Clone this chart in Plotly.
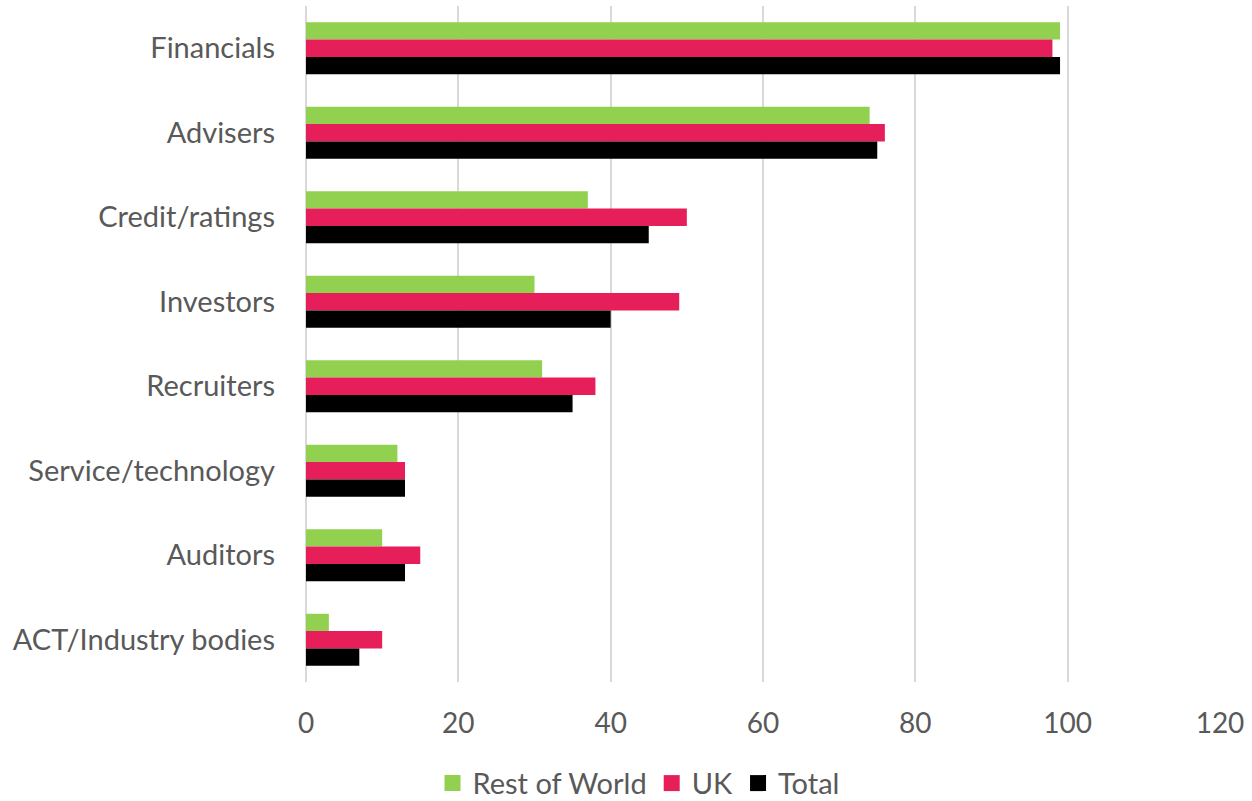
import plotly.graph_objects as go

categories = ["Financials", "Advisers", "Credit/ratings", "Investors",
              "Recruiters", "Service/technology", "Auditors", "ACT/Industry bodies"]
rest_of_world = [99, 74, 37, 30, 31, 12, 10, 3]
uk = [98, 76, 50, 49, 38, 13, 15, 10]
total = [99, 75, 45, 40, 35, 13, 13, 7]
x_ticks = [0, 20, 40, 60, 80, 100, 120]

series = [
    ("Rest of World", rest_of_world, "#92D050"),
    ("UK", uk, "#E61E5A"),
    ("Total", total, "#000000"),
]

fig = go.Figure()
for name, vals, color in series:
    fig.add_trace(go.Bar(
        y=categories, x=vals, name=name, orientation="h",
        marker=dict(color=color, line=dict(width=0)),
        showlegend=False,
    ))

# Square legend keys, larger than the default bar swatch
for name, _, color in series:
    fig.add_trace(go.Scatter(
        x=[None], y=[None], mode="markers", name=name,
        marker=dict(symbol="square", size=18, color=color),
        showlegend=True,
    ))

fig.update_layout(
    width=1252, height=801,
    margin=dict(l=306, r=32, t=6, b=119),
    paper_bgcolor="white", plot_bgcolor="white",
    barmode="group", bargap=0.385, bargroupgap=0,
    font=dict(family="Lato, Carlito, sans-serif", color="#595959", size=28),
    xaxis=dict(
        range=[0, 120], tickvals=x_ticks, showgrid=True,
        gridcolor="#D9D9D9", gridwidth=2, zeroline=True,
        zerolinecolor="#D9D9D9", zerolinewidth=2,
        tickfont=dict(size=28, color="#595959"), ticks="", ticklabelstandoff=22,
    ),
    yaxis=dict(
        autorange="reversed", showgrid=False, zeroline=False,
        tickfont=dict(size=29, color="#595959"), ticks="",
        ticklabelstandoff=30,
    ),
    legend=dict(
        orientation="h", xref="container", yref="container",
        x=0.51, xanchor="center", y=0.054, yanchor="top",
        font=dict(size=29, color="#595959"), traceorder="normal",
        itemwidth=30,
    ),
    showlegend=True,
)

fig.write_html("out.html")
